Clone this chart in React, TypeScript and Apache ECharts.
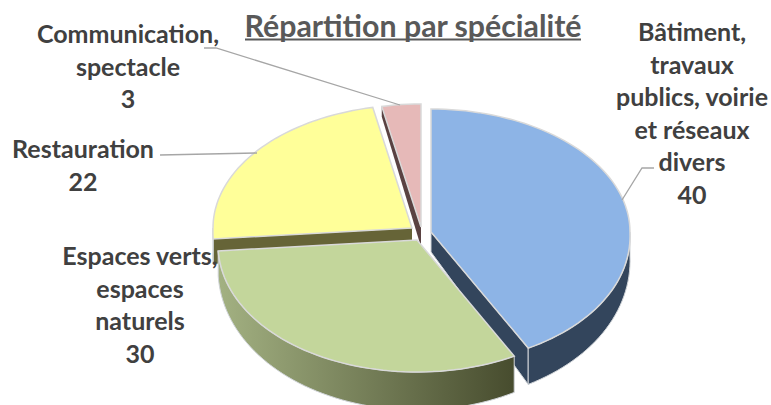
import React, { useEffect, useRef } from "react";
import * as echarts from "echarts";

const specialites = [
  "Bâtiment,\ntravaux\npublics, voirie\net réseaux\ndivers",
  "Espaces verts,\nespaces\nnaturels",
  "Restauration",
  "Communication,\nspectacle",
];
const effectifs = [40, 30, 22, 3];
const titre = "Répartition par spécialité";

// paint order: back slices first
const paintOrder = [3, 2, 0, 1];
const topColors = ["#8DB4E6", "#C3D69B", "#FFFF99", "#E6B9B8"];
const cutColors = ["#33455C", "#4A5030", "#666437", "#5A4242"];
const centers = [[431, 232], [417, 240], [412, 228], [421, 227]];
const labelAnchors = [[692, 31], [140, 255], [83, 148], [128, 33]];
const leaders = [
  [[654, 168], [642, 168], [622, 200]],
  [[160, 155], [257, 153]],
  [[204, 48], [216, 48], [400, 105]],
];

const RX = 199, RT = 123, RB = 132;
const rad = (d: number) => (d * Math.PI) / 180;
const depth = (c: number) => 24 - 14 * c;
const APEX_DEPTH = 20;

function renderSlice(_: any, api: any) {
  const i = api.value(0) as number;
  const total = effectifs.reduce((a, b) => a + b, 0);
  const before = effectifs.slice(0, i).reduce((a, b) => a + b, 0);
  const a0 = (before / total) * 360;
  const a1 = ((before + (api.value(1) as number)) / total) * 360;
  const [cx, cy] = centers[i];
  const top = (a: number) => {
    const c = Math.cos(rad(a));
    const widen = c < 0 ? 1 - 0.03 * c : 1;
    return [cx + RX * widen * Math.sin(rad(a)), cy - (c > 0 ? RT : RB) * c];
  };
  const bottom = (a: number) => {
    const p = top(a);
    return [p[0], p[1] + depth(Math.cos(rad(a)))];
  };
  const apex = [cx, cy];
  const apexB = [cx, cy + APEX_DEPTH];
  const arc = (f: (a: number) => number[], s: number, e: number) => {
    const n = Math.max(2, Math.ceil(Math.abs(e - s) / 2));
    const pts = [];
    for (let k = 0; k <= n; k++) pts.push(f(s + ((e - s) * k) / n));
    return pts;
  };
  const children: any[] = [];
  const edge = { stroke: "#D0D4D8", lineWidth: 1 };
  if (a0 >= 180) {
    children.push({
      type: "polygon",
      shape: { points: [apex, top(a0), bottom(a0), apexB] },
      style: { fill: cutColors[i] },
    });
  }
  if (a1 <= 180) {
    children.push({
      type: "polygon",
      shape: { points: [apex, top(a1), bottom(a1), apexB] },
      style: { fill: cutColors[i], ...edge },
    });
  }
  const ws = Math.max(a0, 90), we = Math.min(a1, 270);
  if (we > ws) {
    const fill =
      i === 1
        ? new echarts.graphic.LinearGradient(0, 0, 1, 0, [
            { offset: 0, color: "#A3B182" },
            { offset: 1, color: "#474C2E" },
          ])
        : cutColors[i];
    children.push({
      type: "polygon",
      shape: { points: [...arc(top, ws, we), ...arc(bottom, we, ws)] },
      style: { fill, ...edge },
    });
  }
  children.push({
    type: "polygon",
    shape: { points: [apex, ...arc(top, a0, a1)] },
    style: { fill: topColors[i], stroke: "#D9D9D9", lineWidth: 1.5 },
  });
  return { type: "group", children };
}

export default function App() {
  const ref = useRef<HTMLDivElement>(null);
  useEffect(() => {
    const chart = echarts.init(ref.current!, null, { renderer: "svg" });
    const font = "Lato";
    chart.setOption({
      animation: false,
      backgroundColor: "#FFFFFF",
      series: [
        {
          type: "custom",
          coordinateSystem: "none",
          renderItem: renderSlice,
          data: paintOrder.map((i) => [i, effectifs[i]]),
          silent: true,
        },
      ],
      graphic: [
        {
          type: "text",
          x: 413,
          y: 10,
          z: 10,
          style: {
            text: titre,
            fill: "#595959",
            font: `bold 30.3px ${font}`,
            textAlign: "center",
          },
        },
        {
          type: "line",
          z: 10,
          shape: { x1: 245, y1: 39.5, x2: 581, y2: 39.5 },
          style: { stroke: "#595959", lineWidth: 2 },
        },
        ...leaders.map((pts) => ({
          type: "polyline",
          z: 10,
          shape: { points: pts },
          style: { stroke: "#A6A6A6", lineWidth: 1.3, fill: "none" },
        })),
        ...specialites.map((name, i) => ({
          type: "text",
          x: labelAnchors[i][0],
          y: labelAnchors[i][1] - 16,
          z: 10,
          style: {
            text: `${name}\n${effectifs[i]}`,
            fill: "#404040",
            font: `bold 25px ${font}`,
            lineHeight: 32.5,
            textAlign: "center",
          },
        })),
      ],
    });
    return () => chart.dispose();
  }, []);
  return <div ref={ref} style={{ position: "fixed", left: 0, top: 0, width: 771, height: 405 }} />;
}
